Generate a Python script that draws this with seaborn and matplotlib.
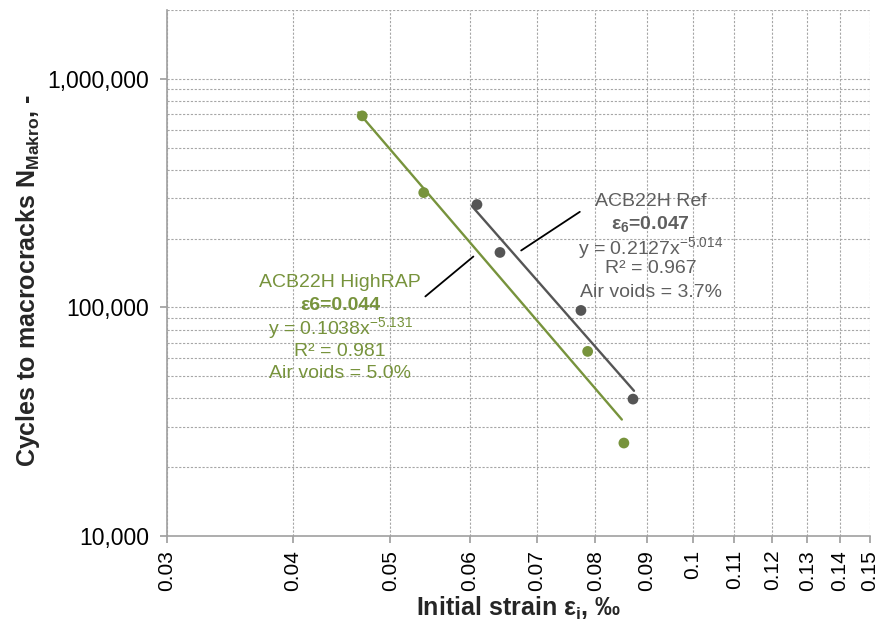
import numpy as np
import pandas as pd
import matplotlib
matplotlib.use("Agg")
import matplotlib.pyplot as plt
import matplotlib.ticker as mticker
import seaborn as sns

# Fatigue test results: initial strain (‰) vs. cycles to macrocracks
highrap_strain = [0.0469, 0.0540, 0.0786, 0.0854]
highrap_cycles = [689000, 318000, 64200, 25500]
ref_strain = [0.0610, 0.0643, 0.0774, 0.0872]
ref_cycles = [282000, 174000, 97000, 39700]

# Power-law fits N = a * eps^b and the strain range each fit spans
highrap_fit = (0.1038, -5.131)
ref_fit = (0.2127, -5.014)
highrap_fit_range = (0.0465, 0.0850)
ref_fit_range = (0.0603, 0.0874)

x_ticks = [0.03, 0.04, 0.05, 0.06, 0.07, 0.08, 0.09, 0.10, 0.11, 0.12, 0.13, 0.14, 0.15]
x_tick_labels = ["0.03", "0.04", "0.05", "0.06", "0.07", "0.08", "0.09", "0.1",
                 "0.11", "0.12", "0.13", "0.14", "0.15"]
y_ticks = [10000, 100000, 1000000]
y_tick_labels = ["10,000", "100,000", "1,000,000"]

GREEN = "#77933C"
GRAY = "#555555"
TEXT_GRAY = "#5F5F5F"

sns.set_theme(style="white")
plt.rcParams["font.family"] = ["Liberation Sans", "DejaVu Sans"]
plt.rcParams["mathtext.fontset"] = "custom"
plt.rcParams["mathtext.rm"] = "Liberation Sans"
plt.rcParams["mathtext.it"] = "Liberation Sans:italic"
plt.rcParams["mathtext.bf"] = "Liberation Sans:bold"

points = pd.concat([
    pd.DataFrame({"strain": highrap_strain, "cycles": highrap_cycles, "mix": "ACB22H HighRAP"}),
    pd.DataFrame({"strain": ref_strain, "cycles": ref_cycles, "mix": "ACB22H Ref"}),
])


def fit_frame(fit, rng, name):
    xs = np.array(rng)
    return pd.DataFrame({"strain": xs, "cycles": fit[0] * xs ** fit[1], "mix": name})


fits = pd.concat([
    fit_frame(highrap_fit, highrap_fit_range, "ACB22H HighRAP"),
    fit_frame(ref_fit, ref_fit_range, "ACB22H Ref"),
])
palette = {"ACB22H HighRAP": GREEN, "ACB22H Ref": GRAY}

fig = plt.figure(figsize=(8.84, 6.32), dpi=100)
ax = fig.add_axes([0.189, 0.152, 0.795, 0.832])
ax.set_xscale("log")
ax.set_yscale("log")

sns.lineplot(data=fits, x="strain", y="cycles", hue="mix", palette=palette,
             linewidth=1.7, legend=False, ax=ax, zorder=3)
sns.scatterplot(data=points, x="strain", y="cycles", hue="mix", palette=palette,
                s=60, edgecolor="none", legend=False, ax=ax, zorder=4)

ax.set_xlim(0.03, 0.15)
ax.set_ylim(10000, 2000000)

ax.xaxis.set_major_locator(mticker.FixedLocator(x_ticks))
ax.xaxis.set_major_formatter(mticker.FixedFormatter(x_tick_labels))
ax.xaxis.set_minor_locator(mticker.NullLocator())
ax.yaxis.set_major_locator(mticker.FixedLocator(y_ticks))
ax.yaxis.set_major_formatter(mticker.FixedFormatter(y_tick_labels))
ax.yaxis.set_minor_locator(mticker.LogLocator(base=10, subs=np.arange(2, 10)))
ax.yaxis.set_minor_formatter(mticker.NullFormatter())

ax.grid(True, which="major", axis="both", color="#A6A6A6", linestyle=(0, (2, 1.5)), linewidth=0.8)
ax.grid(True, which="minor", axis="y", color="#A6A6A6", linestyle=(0, (2, 1.5)), linewidth=0.8)
ax.set_axisbelow(True)

for side in ("top", "right"):
    ax.spines[side].set_visible(False)
for side in ("left", "bottom"):
    ax.spines[side].set_color("#A0A0A0")
    ax.spines[side].set_linewidth(1.2)

ax.tick_params(axis="x", which="major", labelsize=15, rotation=90, length=5, color="#A0A0A0",
               bottom=True, labelcolor="black", pad=5)
ax.tick_params(axis="y", which="major", labelsize=16.5, length=5, color="#A0A0A0",
               left=True, labelcolor="black", pad=8)
ax.tick_params(axis="y", which="minor", length=0)

ax.set_xlabel("Initial strain ε$_\\mathbf{i}$, ‰", fontsize=18, fontweight="bold",
              family=["Liberation Sans Narrow", "Liberation Sans", "DejaVu Sans"], labelpad=3)
ax.set_ylabel("Cycles to macrocracks N$_\\mathbf{Makro}$, -", fontsize=18, fontweight="bold")
ax.yaxis.set_label_coords(-0.178, 0.485)

# Fit annotations
ann_size = 14
gx = 0.0446
for val, txt, bold in [(128600, "ACB22H HighRAP", False),
                       (102000, "ε6=0.044", True),
                       (80900, "y = 0.1038x$^{\\mathregular{-5.131}}$", False),
                       (64200, "R² = 0.981", False),
                       (51500, "Air voids = 5.0%", False)]:
    ax.text(gx, val, txt, color=GREEN, fontsize=ann_size, ha="center", va="center",
            fontweight="bold" if bold else "normal")

rx = 0.0908
for val, txt, bold in [(290000, "ACB22H Ref", False),
                       (232600, "ε$_\\mathbf{6}$=0.047", True),
                       (182800, "y = 0.2127x$^{\\mathregular{-5.014}}$", False),
                       (148000, "R² = 0.967", False),
                       (116300, "Air voids = 3.7%", False)]:
    ax.text(rx, val, txt, color=TEXT_GRAY, fontsize=ann_size, ha="center", va="center",
            fontweight="bold" if bold else "normal")

# Leader lines from labels to their fit lines
ax.plot([0.0542, 0.0605], [111700, 167000], color="black", linewidth=1.3, zorder=5)
ax.plot([0.0675, 0.0772], [177500, 262000], color="black", linewidth=1.3, zorder=5)

fig.savefig("out.png", dpi=100, facecolor="white")
